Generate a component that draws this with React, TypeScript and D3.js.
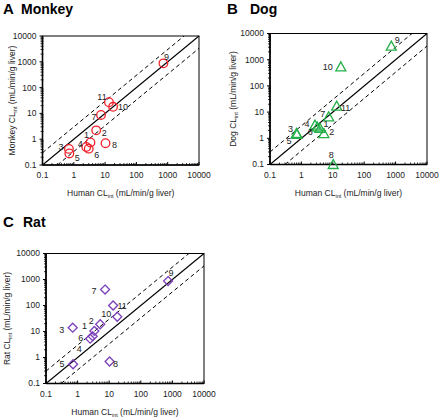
import React from "react";
import * as d3 from "d3";

const compounds = ["1", "2", "3", "4", "5", "6", "7", "8", "9", "10", "11"];
const human = [3.4, 5.2, 0.7, 2.5, 0.72, 3.0, 7.4, 10.3, 730, 18, 13.3];
const monkey = [0.75, 2.2, 0.42, 0.5, 0.28, 0.43, 8.7, 0.7, 870, 18, 27];
const dog = [2.4, 1.5, 1.55, 3.2, 1.4, 2.7, 6.6, 0.1, 3300, 530, 17];
const dogHuman = [3.9, 5.2, 0.7, 2.7, 0.72, 3.2, 7.4, 10.3, 730, 18, 13.3];
const rat = [10.5, 19, 14, 5.3, 0.55, 6.6, 410, 0.7, 870, 37, 100];
const tickValues = [0.1, 1, 10, 100, 1000, 10000];
const tickLabels = ["0.1", "1", "10", "100", "1000", "10000"];

// label offsets (px) for each compound label, per panel
const labelOffA = [[-4, -8], [8, 2], [-8, -2], [-6, -3], [8, 4], [8, 6], [-7, 2], [9, 2], [3, -7], [10, 0], [-7, -5]];
const labelOffB = [[6, -4], [8, -2], [-6, -4], [-8, -1], [-8, 6], [-7, 5], [-6, -3], [-2, -10], [6, -6], [-13, 0], [9, 2]];
const labelOffC = [[-10, -5], [-9, -3], [-11, 2], [-11, 10], [-11, 0], [-12, 1.5], [-11, 1], [6, 2], [3, -8], [-11, -3], [9, 0]];

type Panel = {
  letter: string;
  name: string;
  species: string;
  ys: number[];
  xs: number[];
  offs: number[][];
  left: number;
  right: number;
  top: number;
  bottom: number;
  ylabX: number;
  titleY: number;
  color: string;
  shape: "circle" | "triangle" | "diamond";
};

const panels: Panel[] = [
  { letter: "A", name: "Monkey", species: "Monkey", ys: monkey, xs: human, offs: labelOffA, left: 42.5, right: 199, top: 36, bottom: 165, ylabX: 12, titleY: 14, color: "#f2222a", shape: "circle" },
  { letter: "B", name: "Dog", species: "Dog", ys: dog, xs: dogHuman, offs: labelOffB, left: 270, right: 427, top: 33.5, bottom: 164.5, ylabX: 233, titleY: 14, color: "#25b04a", shape: "triangle" },
  { letter: "C", name: "Rat", species: "Rat", ys: rat, xs: human, offs: labelOffC, left: 46, right: 204, top: 253.5, bottom: 383.5, ylabX: 7, titleY: 227, color: "#7b3fb8", shape: "diamond" },
];

const font = "'Liberation Sans', Arial, sans-serif";

function minorTicks(): number[] {
  const out: number[] = [];
  for (let e = -1; e < 4; e++) {
    for (let k = 2; k <= 9; k++) out.push(k * Math.pow(10, e));
  }
  return out;
}

function PanelView({ p }: { p: Panel }) {
  const x = d3.scaleLog().domain([0.1, 10000]).range([p.left, p.right]);
  const y = d3.scaleLog().domain([0.1, 10000]).range([p.bottom, p.top]);
  const minors = minorTicks();
  const line = d3.line<[number, number]>().x((d) => x(d[0])).y((d) => y(d[1]));
  const unity = line([[0.1, 0.1], [10000, 10000]]) || "";
  const upper = line([[0.1, 0.3], [10000 / 3, 10000]]) || "";
  const lower = line([[0.3, 0.1], [10000, 10000 / 3]]) || "";
  const midY = (p.top + p.bottom) / 2;
  const midX = (p.left + p.right) / 2;

  const marker = (cx: number, cy: number, i: number) => {
    const common = { fill: "none", stroke: p.color, strokeWidth: 1.3 };
    if (p.shape === "circle") return <circle key={i} cx={cx} cy={cy} r={4.3} {...common} />;
    if (p.shape === "triangle") {
      const s = 5;
      return <path key={i} d={`M${cx},${cy - s}L${cx + s},${cy + s * 0.8}L${cx - s},${cy + s * 0.8}Z`} {...common} />;
    }
    const s = 4.5;
    return <path key={i} d={`M${cx},${cy - s}L${cx + s},${cy}L${cx},${cy + s}L${cx - s},${cy}Z`} {...common} />;
  };

  return (
    <g fontFamily={font}>
      <text x={p.letter === "B" ? 227 : 3} y={p.titleY} fontSize={15} fontWeight="bold" fill="#000">{p.letter}</text>
      <text x={p.letter === "B" ? 250 : p.letter === "A" ? 21 : 23} y={p.titleY} fontSize={14} fontWeight="bold" fill="#000">{p.name}</text>
      {/* lines */}
      <path d={unity} stroke="#000" strokeWidth={1.1} fill="none" />
      <path d={upper} stroke="#000" strokeWidth={1} strokeDasharray="4,3" fill="none" />
      <path d={lower} stroke="#000" strokeWidth={1} strokeDasharray="4,3" fill="none" />
      {/* frame */}
      <rect x={p.left} y={p.top} width={p.right - p.left} height={p.bottom - p.top} fill="none" stroke="#000" strokeWidth={1} />
      <line x1={p.left} x2={p.left} y1={p.top} y2={p.bottom} stroke="#000" strokeWidth={1.6} />
      <line x1={p.left} x2={p.right} y1={p.bottom} y2={p.bottom} stroke="#000" strokeWidth={1.3} />
      {/* y ticks */}
      {tickValues.map((v, i) => (
        <g key={"y" + i}>
          <line x1={p.left - 3} x2={p.left} y1={y(v)} y2={y(v)} stroke="#000" strokeWidth={1} />
          <text x={p.left - 6} y={y(v)} dy="0.35em" fontSize={8.5} textAnchor="end" fill="#222">{tickLabels[i]}</text>
        </g>
      ))}
      {minors.map((v, i) => (
        <line key={"ym" + i} x1={p.left - 2} x2={p.left + 1} y1={y(v)} y2={y(v)} stroke="#000" strokeWidth={0.8} />
      ))}
      {/* x ticks */}
      {tickValues.map((v, i) => (
        <g key={"x" + i}>
          <line x1={x(v)} x2={x(v)} y1={p.bottom} y2={p.bottom - 3} stroke="#000" strokeWidth={1} />
          <text x={x(v)} y={p.bottom + 13} fontSize={8.5} textAnchor="middle" fill="#222">{tickLabels[i]}</text>
        </g>
      ))}
      {minors.map((v, i) => (
        <line key={"xm" + i} x1={x(v)} x2={x(v)} y1={p.bottom} y2={p.bottom - 2} stroke="#000" strokeWidth={0.8} />
      ))}
      {/* axis labels */}
      <text x={midX} y={p.bottom + 31} fontSize={8.5} textAnchor="middle" fill="#222">
        Human CL<tspan fontSize={5.5} dy={2}>int</tspan><tspan dy={-2}> (mL/min/g liver)</tspan>
      </text>
      <text transform={`translate(${p.ylabX},${midY}) rotate(-90)`} fontSize={8.5} textAnchor="middle" dy="0.35em" fill="#222">
        {p.species} CL<tspan fontSize={5.5} dy={2}>int</tspan><tspan dy={-2}> (mL/min/g liver)</tspan>
      </text>
      {/* markers */}
      {compounds.map((c, i) => marker(x(p.xs[i]), y(p.ys[i]), i))}
      {compounds.map((c, i) => (
        <text key={"l" + i} x={x(p.xs[i]) + p.offs[i][0]} y={y(p.ys[i]) + p.offs[i][1]} dy="0.35em" fontSize={9} textAnchor="middle" fill="#222">{c}</text>
      ))}
    </g>
  );
}

export default function App() {
  return (
    <svg width={440} height={417} style={{ position: "absolute", left: 0, top: 0, background: "#fff" }}>
      <rect width={440} height={417} fill="#fff" />
      {panels.map((p) => <PanelView key={p.letter} p={p} />)}
    </svg>
  );
}
